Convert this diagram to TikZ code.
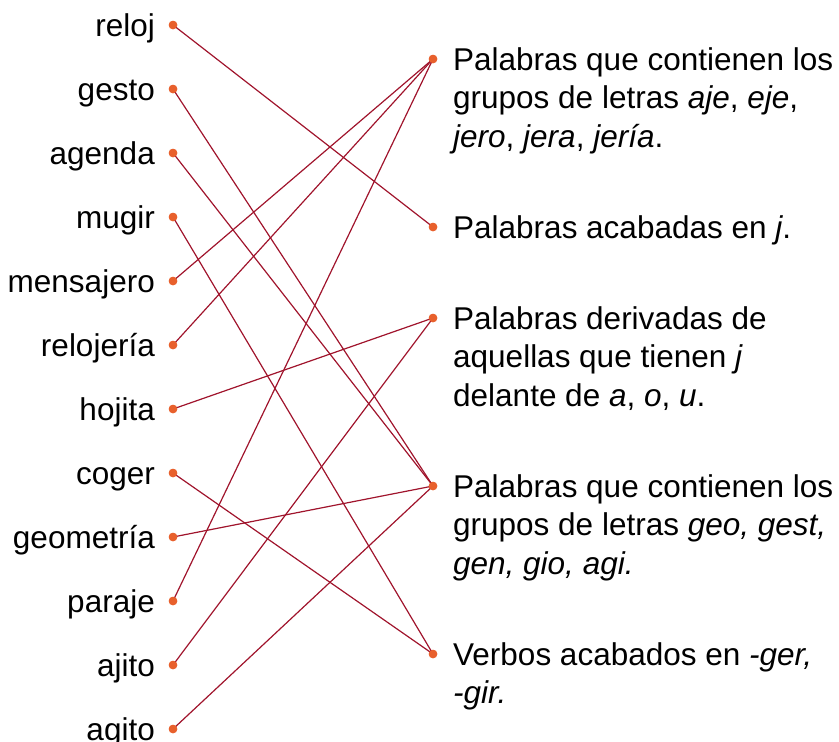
\documentclass[tikz,border=0pt]{standalone}
\usepackage{fontspec}
\setmainfont{Liberation Sans}
\definecolor{dotc}{HTML}{E8602C}
\definecolor{linec}{HTML}{A0142C}
\begin{document}
\begin{tikzpicture}[x=1pt,y=-1pt,
  lbl/.style={anchor=base east,inner sep=0pt,font=\fontsize{31.5}{38.5}\selectfont},
  rlbl/.style={anchor=base west,inner sep=0pt,align=left,font=\fontsize{31.5}{38.5}\selectfont},
  dotn/.style={circle,fill=dotc,inner sep=0pt,minimum size=8.5pt},
  link/.style={draw=linec,line width=1.2pt}]
\useasboundingbox (0,0) rectangle (839,742);
% left column
\foreach \n/\t [count=\i] in {a/reloj,b/gesto,c/agenda,d/mugir,e/mensajero,f/relojería,g/hojita,h/coger,i/geometría,j/paraje,k/ajito,l/agito}{
  \node[dotn] (L\n) at (173,{25+64*(\i-1)}) {};
  \node[lbl] (T\n) at (155,{36+64*(\i-1)}) {\t};
}
% right column (base anchor = baseline of the last line)
\node[dotn] (R1) at (433,59) {};
\node[dotn] (R2) at (433,227) {};
\node[dotn] (R3) at (433,318) {};
\node[dotn] (R4) at (433,486) {};
\node[dotn] (R5) at (433,654) {};
\node[rlbl] (S1) at (453,147) {Palabras que contienen los\\grupos de letras \textit{aje}, \textit{eje},\\\textit{jero}, \textit{jera}, \textit{jería}.};
\node[rlbl] (S2) at (453,238) {Palabras acabadas en \textit{j}.};
\node[rlbl] (S3) at (453,406) {Palabras derivadas de\\aquellas que tienen \textit{j}\\delante de \textit{a}, \textit{o}, \textit{u}.};
\node[rlbl] (S4) at (453,574) {Palabras que contienen los\\grupos de letras \textit{geo, gest,}\\\textit{gen, gio, agi.}};
\node[rlbl] (S5) at (453,703.5) {Verbos acabados en \textit{-ger,}\\\textit{-gir.}};
% connectors
\foreach \a/\b in {a/R2,b/R4,c/R4,d/R5,e/R1,f/R1,g/R3,h/R5,i/R4,j/R1,k/R3,l/R4}{
  \draw[link] (L\a.center) -- (\b.center);
}
\foreach \n in {a,b,c,d,e,f,g,h,i,j,k,l}{\node[dotn] at (L\n) {};}
\foreach \n in {1,...,5}{\node[dotn] at (R\n) {};}
\end{tikzpicture}
\end{document}
